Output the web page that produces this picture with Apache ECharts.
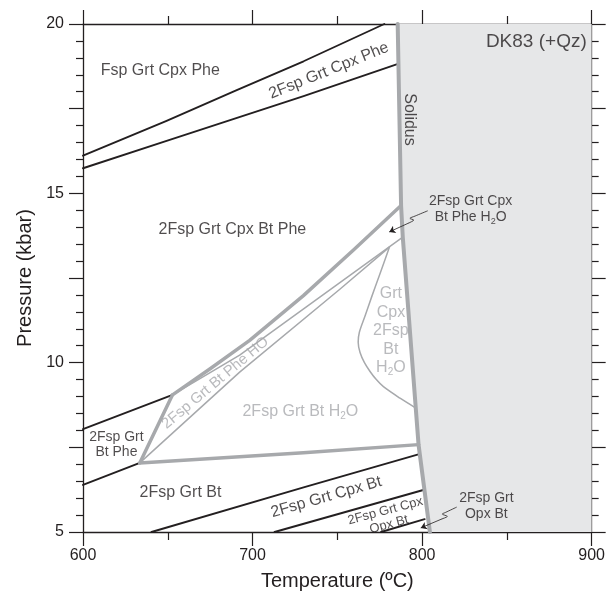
<!DOCTYPE html>
<html><head><meta charset="utf-8">
<script src="https://cdn.jsdelivr.net/npm/echarts@6/dist/echarts.min.js"></script>
<style>html,body{margin:0;padding:0;background:#fff}#c{width:608px;height:596px}</style>
</head><body><div id="c"></div>
<script>
// ---- data (T in °C, P in kbar) ----
const xTickLabels = [600, 700, 800, 900];
const yTickLabels = [5, 10, 15, 20];

const solidus = [[785.6,20],[787.6,14.64],[788.6,13.71],[797.9,7.58],[804.6,5]];
const meltCorner = [[900,5],[900,20]];

const fspOut      = [[600,16.11],[649.3,17.14],[690,18.03],[730.1,18.9],[777.7,20]];
const cpxPheLower = [[600,15.74],[649.3,16.55],[730.1,17.87],[785.8,18.82]];
const btPheUpper  = [[600,8.04],[652.8,9.05]];
const btPheLower  = [[600,6.39],[633.5,7.04]];
const grtBtUpper  = [[640.4,5],[730.1,6.32],[798.3,7.3]];
const cpxBtLower  = [[713,5],[800.7,6.24]];
const opxBtLower  = [[775.8,5],[801.5,5.38]];

const h2oLeft  = [[633.5,7.04],[652.8,9.05]];
const h2oUpper = [[652.8,9.05],[675,9.82],[698.3,10.66],[730,11.98],[760,13.35],[787.6,14.64]];
const h2oLower = [[633.5,7.04],[730,7.34],[797.9,7.58]];
const thinUpper = [[652.8,9.05],[692.4,10.22],[788.6,13.71]];
const thinLower = [[633.5,7.04],[692.4,9.72],[751.3,12.16],[780.7,13.41]];
const cpxLoop = [[780.7,13.41],[775,12.6],[770.3,11.95],[766.5,11.4],[763,10.9],[762.3,10.6],[763.4,10.3],[766,10.0],[769.3,9.74],[773,9.5],[777.2,9.29],[787,8.95],[796.3,8.66]];

const leader1 = [[803.1,14.48],[795.9,14.33],[792.8,14.26],[795.1,14.21],[792.4,14.13]];
const leader1Tip = [[792.4,14.13],[780.6,13.86]];
const leader2 = [[820.2,5.73],[813.9,5.58],[811.9,5.53],[814.9,5.46],[811.9,5.39]];
const leader2Tip = [[811.9,5.39],[799.2,5.12]];

const labelTexts = [
  'Fsp Grt Cpx Phe',
  '2Fsp Grt Cpx Phe',
  'Solidus',
  'DK83 (+Qz)',
  '2Fsp Grt Cpx\nBt Phe H{s|2}O',
  'Grt\nCpx\n2Fsp\nBt\nH{s|2}O',
  '2Fsp Grt Cpx Bt Phe',
  '2Fsp Grt Bt Phe HO',
  '2Fsp Grt Bt H{s|2}O',
  '2Fsp Grt\nBt Phe',
  '2Fsp Grt Bt',
  '2Fsp Grt Cpx Bt',
  '2Fsp Grt Cpx\nOpx Bt',
  '2Fsp Grt\nOpx Bt'
];

// ---- styling / layout ----
const INK = '#231f20', GREY = '#a7a9ac', SHADE = '#e6e7e8';
const FONT = '"Liberation Sans", Arial, Helvetica, sans-serif';

const labelPlacement = [
  {at:[645.6,18.63], size:16},
  {at:[745.0,18.62], size:16, rot:22},
  {at:[792.5,17.18], size:16, rot:-90},
  {at:[897.1,19.48], size:19, align:'right'},
  {at:[828.6,14.53], size:14, lh:16.6},
  {at:[781.6,10.94], size:16, lh:18.6, color:GREY},
  {at:[688.1,13.94], size:16},
  {at:[678.0,9.40], size:15, rot:40, color:GREY},
  {at:[728.2,8.55], size:16, color:GREY},
  {at:[619.7,7.57], size:14, lh:15},
  {at:[657.5,6.17], size:16},
  {at:[743.5,6.03], size:16, rot:16},
  {at:[779.4,5.42], size:13, lh:14, rot:15},
  {at:[837.9,5.76], size:14, lh:16.7}
];

function lineSeries(data, color, width, z, smooth) {
  return {type:'line', data:data, xAxisIndex:0, yAxisIndex:0, showSymbol:false, symbol:'none',
    smooth: smooth || false, z:z, silent:true, animation:false,
    lineStyle:{color:color, width:width, cap:'round', join:'round'}};
}
function tipSeries(seg) {
  return {type:'lines', coordinateSystem:'cartesian2d', xAxisIndex:0, yAxisIndex:0, z:6, silent:true,
    animation:false, symbol:['none','arrow'], symbolSize:6,
    lineStyle:{color:INK, width:0.8, opacity:1},
    data:[{coords:seg}]};
}

const axisCommon = (pos) => ({
  position: pos,
  axisLine:{show:true, onZero:false, lineStyle:{color:INK, width:1.3}},
  axisTick:{show:true, length:14, lineStyle:{color:INK, width:1.2}},
  splitLine:{show:false},
});

const xAxes = ['bottom','top'].map((pos,i) => Object.assign(axisCommon(pos), {
  type:'value', min:600, max:900, interval:100,
  minorTick:{show:true, splitNumber:2, length:8, lineStyle:{color:INK, width:1.2}},
  axisLabel:{show:i===0, fontSize:16, color:INK, fontFamily:FONT, margin:16,
    formatter: v => xTickLabels.includes(v) ? String(v) : ''},
  name: i===0 ? 'Temperature (ºC)' : '', nameLocation:'middle', nameGap:39,
  nameTextStyle:{fontSize:20, color:INK, fontFamily:FONT}
}));
const yAxes = ['left','right'].map((pos,i) => Object.assign(axisCommon(pos), {
  type:'value', min:5, max:20, interval:2.5,
  minorTick:{show:true, splitNumber:5, length:7, lineStyle:{color:INK, width:1.2}},
  axisLabel:{show:i===0, fontSize:16, color:INK, fontFamily:FONT, margin:19,
    formatter: v => yTickLabels.includes(v) ? String(v) : ''},
  name: i===0 ? 'Pressure (kbar)' : '', nameLocation:'middle', nameGap:48,
  nameTextStyle:{fontSize:20, color:INK, fontFamily:FONT}
}));

const labelData = labelTexts.map((t, i) => {
  const p = labelPlacement[i];
  const col = p.color || INK;
  return {
    value: p.at,
    label: {
      show:true, position:'inside', formatter:t, fontSize:p.size, color:col, fontFamily:FONT,
      lineHeight: p.lh || Math.round(p.size*1.2), rotate: p.rot || 0,
      align: p.align || 'center', verticalAlign:'middle',
      rich: { s: {fontSize: Math.round(p.size*0.62), color:col, fontFamily:FONT, verticalAlign:'bottom',
                  lineHeight: p.lh || Math.round(p.size*1.2)} }
    }
  };
});

const option = {
  backgroundColor:'#fff',
  animation:false,
  grid:{left:83, top:24, width:510, height:510, containLabel:false},
  xAxis: xAxes,
  yAxis: yAxes,
  series: [
    {type:'custom', xAxisIndex:0, yAxisIndex:0, z:1, silent:true, data:[[0,0]],
     renderItem: (params, api) => ({
       type:'polygon',
       shape:{points: solidus.concat(meltCorner).map(p => api.coord(p))},
       style:{fill:SHADE, stroke:'none'}
     })},
    lineSeries(fspOut, INK, 1.9, 3),
    lineSeries(cpxPheLower, INK, 1.9, 3),
    lineSeries(btPheUpper, INK, 1.9, 3),
    lineSeries(btPheLower, INK, 1.9, 3),
    lineSeries(grtBtUpper, INK, 1.9, 3),
    lineSeries(cpxBtLower, INK, 1.9, 3),
    lineSeries(opxBtLower, INK, 1.9, 3),
    lineSeries(thinUpper, GREY, 1.5, 3),
    lineSeries(thinLower, GREY, 1.5, 3),
    lineSeries(cpxLoop, GREY, 1.5, 3, 0.3),
    lineSeries(h2oLeft, GREY, 3.5, 4),
    lineSeries(h2oUpper, GREY, 3.5, 4),
    lineSeries(h2oLower, GREY, 3.5, 4),
    lineSeries(solidus, GREY, 4, 5),
    lineSeries(leader1, INK, 0.8, 6, 0.3),
    lineSeries(leader2, INK, 0.8, 6, 0.3),
    tipSeries(leader1Tip),
    tipSeries(leader2Tip),
    {type:'scatter', xAxisIndex:0, yAxisIndex:0, z:8, silent:true, symbolSize:1,
     itemStyle:{color:'rgba(0,0,0,0)'}, data:labelData}
  ]
};

const chart = echarts.init(document.getElementById('c'), null, {renderer:'canvas'});
chart.setOption(option);
</script>
</body></html>
